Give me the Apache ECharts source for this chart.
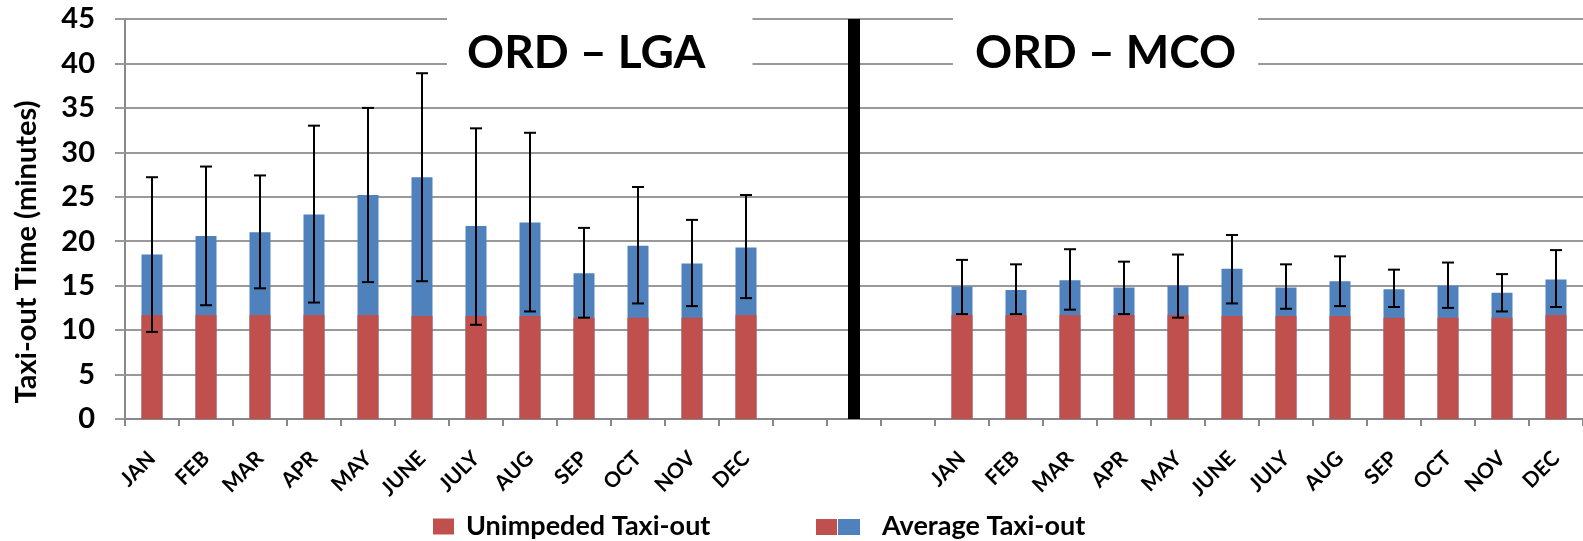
<!DOCTYPE html>
<html>
<head>
<meta charset="utf-8">
<script src="https://cdn.jsdelivr.net/npm/echarts@6/dist/echarts.min.js"></script>
<style>
  html, body { margin: 0; padding: 0; background: #fff; }
  #main { width: 1583px; height: 541px; }
</style>
</head>
<body>
<div id="main"></div>
<script>
// months, same for both routes
var months = ['JAN', 'FEB', 'MAR', 'APR', 'MAY', 'JUNE', 'JULY', 'AUG', 'SEP', 'OCT', 'NOV', 'DEC'];

// ORD - LGA
var lgaUnimpeded = [11.7, 11.7, 11.7, 11.7, 11.7, 11.6, 11.6, 11.6, 11.4, 11.4, 11.4, 11.7];
var lgaAverage   = [18.5, 20.6, 21.0, 23.0, 25.2, 27.2, 21.7, 22.1, 16.4, 19.5, 17.5, 19.3];
var lgaErrLow    = [9.8, 12.8, 14.7, 13.1, 15.4, 15.5, 10.6, 12.1, 11.4, 13.0, 12.7, 13.6];
var lgaErrHigh   = [27.2, 28.4, 27.4, 33.0, 35.0, 38.9, 32.7, 32.2, 21.5, 26.1, 22.4, 25.2];

// ORD - MCO
var mcoUnimpeded = [11.7, 11.7, 11.7, 11.7, 11.7, 11.6, 11.6, 11.6, 11.4, 11.4, 11.4, 11.7];
var mcoAverage   = [14.9, 14.5, 15.6, 14.8, 15.0, 16.9, 14.8, 15.5, 14.6, 15.0, 14.2, 15.7];
var mcoErrLow    = [11.8, 11.8, 12.3, 11.8, 11.4, 13.0, 12.4, 12.7, 12.6, 12.5, 12.1, 12.6];
var mcoErrHigh   = [17.9, 17.4, 19.1, 17.7, 18.5, 20.7, 17.4, 18.3, 16.8, 17.6, 16.3, 19.0];

var gap = [null, null, null];
var categories = months.concat(['', ' ', '  '], months);
var unimpeded = lgaUnimpeded.concat(gap, mcoUnimpeded);
var average = lgaAverage.concat(gap, mcoAverage);
var errLow = lgaErrLow.concat(gap, mcoErrLow);
var errHigh = lgaErrHigh.concat(gap, mcoErrHigh);

var errData = [];
for (var i = 0; i < categories.length; i++) {
    if (errLow[i] != null) errData.push([i, errLow[i], errHigh[i]]);
}

var RED = '#C0504D';
var BLUE = '#4F81BD';
var FONT = 'Lato';

// two-colour legend swatch
function makeSwatch() {
    var c = document.createElement('canvas');
    c.width = 44; c.height = 16;
    var ctx = c.getContext('2d');
    ctx.fillStyle = RED;  ctx.fillRect(0, 0, 21, 16);
    ctx.fillStyle = BLUE; ctx.fillRect(22, 0, 22, 16);
    return 'image://' + c.toDataURL();
}

function renderErr(params, api) {
    var x = api.value(0);
    var lo = api.coord([x, api.value(1)]);
    var hi = api.coord([x, api.value(2)]);
    var cap = 6;
    var st = { stroke: '#000', lineWidth: 2 };
    return {
        type: 'group',
        children: [
            { type: 'line', shape: { x1: lo[0], y1: lo[1], x2: hi[0], y2: hi[1] }, style: st },
            { type: 'line', shape: { x1: hi[0] - cap, y1: hi[1], x2: hi[0] + cap, y2: hi[1] }, style: st },
            { type: 'line', shape: { x1: lo[0] - cap, y1: lo[1], x2: lo[0] + cap, y2: lo[1] }, style: st }
        ]
    };
}

var myChart = echarts.init(document.getElementById('main'));

var titleStyle = { fontFamily: FONT, fontWeight: 'bold', fontSize: 46, color: '#000' };

var option = {
    animation: false,
    backgroundColor: '#fff',
    title: [
        { text: 'ORD – LGA', left: 447, top: 15, backgroundColor: '#fff', padding: [15, 47, 13, 20], textStyle: titleStyle },
        { text: 'ORD – MCO', left: 953, top: 15, backgroundColor: '#fff', padding: [15, 22, 13, 22], textStyle: titleStyle }
    ],
    legend: [
        {
            data: ['Unimpeded Taxi-out'],
            left: 428, top: 508,
            itemWidth: 21, itemHeight: 16,
            icon: 'rect',
            textStyle: { fontFamily: FONT, fontWeight: 'bold', fontSize: 27, color: '#000', padding: [24, 0, 0, 7] }
        },
        {
            data: [{ name: 'Average Taxi-out', icon: makeSwatch() }],
            left: 811, top: 508,
            itemWidth: 44, itemHeight: 16,
            textStyle: { fontFamily: FONT, fontWeight: 'bold', fontSize: 27, color: '#000', padding: [24, 0, 0, 17] }
        }
    ],
    grid: { left: 125, right: 0, top: 19, bottom: 122 },
    xAxis: {
        type: 'category',
        data: categories,
        axisLine: { lineStyle: { color: '#888', width: 2 } },
        axisTick: { show: true, interval: 0, length: 7, lineStyle: { color: '#888', width: 2 } },
        axisLabel: {
            interval: 0, rotate: 45, margin: 36,
            fontFamily: FONT, fontWeight: 'bold', fontSize: 21, color: '#000'
        }
    },
    yAxis: {
        type: 'value',
        min: 0, max: 45, interval: 5,
        name: 'Taxi-out Time (minutes)',
        nameLocation: 'middle',
        nameGap: 84,
        nameTextStyle: { fontFamily: FONT, fontWeight: 'bold', fontSize: 29, color: '#000', padding: [0, 66, 0, 0] },
        axisLine: { show: true, lineStyle: { color: '#888', width: 2 } },
        axisTick: { show: true, length: 10, lineStyle: { color: '#999', width: 2 } },
        axisLabel: { margin: 30, fontFamily: FONT, fontWeight: 'bold', fontSize: 29, color: '#000' },
        splitLine: { lineStyle: { color: '#999', width: 2 } }
    },
    series: [
        {
            name: 'Average Taxi-out',
            type: 'bar',
            data: average,
            barWidth: 21,
            itemStyle: { color: BLUE },
            markLine: {
                silent: true,
                symbol: ['none', 'none'],
                label: { show: false },
                lineStyle: { color: '#000', width: 12, type: 'solid' },
                data: [{ xAxis: 13 }]
            }
        },
        {
            name: 'Unimpeded Taxi-out',
            type: 'bar',
            data: unimpeded,
            barWidth: 21,
            barGap: '-100%',
            itemStyle: { color: RED }
        },
        {
            name: 'error',
            type: 'custom',
            renderItem: renderErr,
            data: errData,
            encode: { x: 0, y: [1, 2] },
            z: 5
        }
    ]
};

myChart.setOption(option);
</script>
</body>
</html>
